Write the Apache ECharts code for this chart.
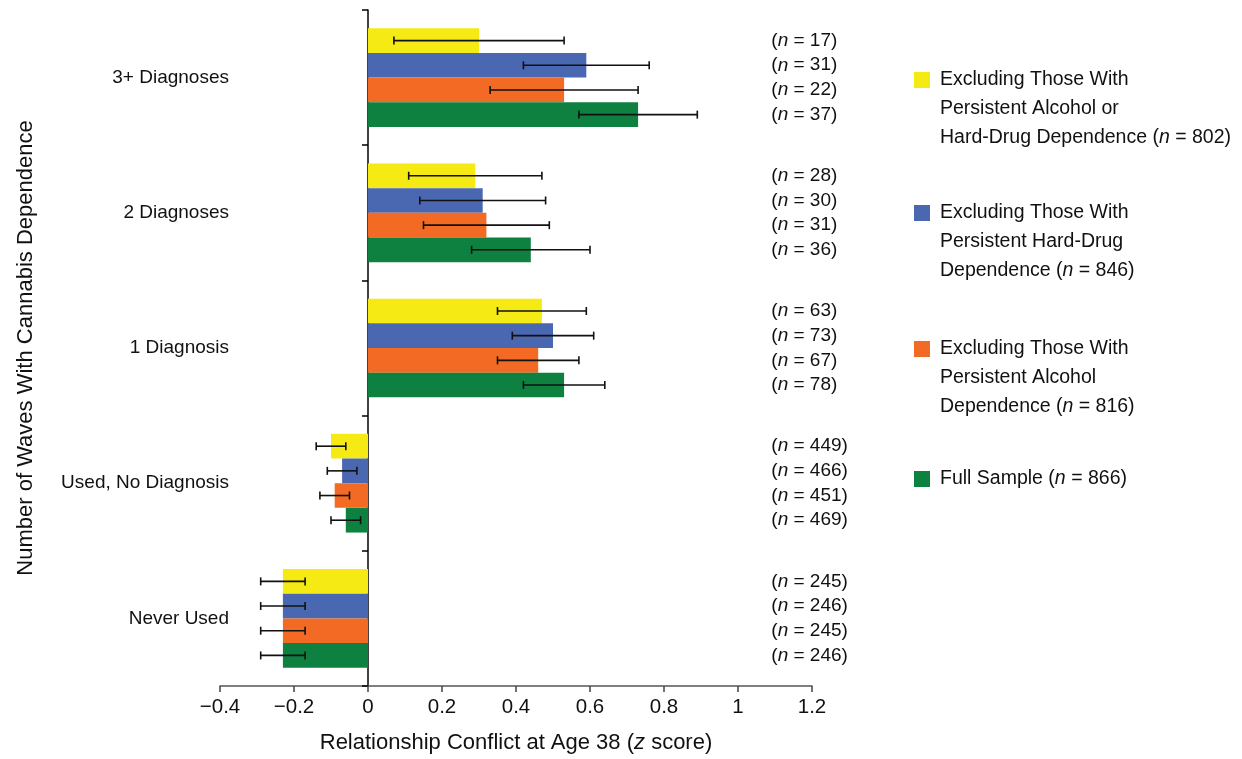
<!DOCTYPE html>
<html><head><meta charset="utf-8">
<script src="https://cdn.jsdelivr.net/npm/echarts@6/dist/echarts.min.js"></script>
<style>html,body{margin:0;padding:0;background:#fff}#c{width:1242px;height:759px}</style>
</head><body><div id="c"></div>
<script>
// ---- data (categories top to bottom) ----
const categories = ['3+ Diagnoses', '2 Diagnoses', '1 Diagnosis', 'Used, No Diagnosis', 'Never Used'];
const seriesNames = [
  'Excluding Those With\nPersistent Alcohol or\nHard-Drug Dependence (n = 802)',
  'Excluding Those With\nPersistent Hard-Drug\nDependence (n = 846)',
  'Excluding Those With\nPersistent Alcohol\nDependence (n = 816)',
  'Full Sample (n = 866)'
];
const meanExclBoth    = [0.30, 0.29, 0.47, -0.10, -0.23];
const lowExclBoth     = [0.07, 0.11, 0.35, -0.14, -0.29];
const highExclBoth    = [0.53, 0.47, 0.59, -0.06, -0.17];
const nExclBoth       = [17, 28, 63, 449, 245];
const meanExclDrug    = [0.59, 0.31, 0.50, -0.07, -0.23];
const lowExclDrug     = [0.42, 0.14, 0.39, -0.11, -0.29];
const highExclDrug    = [0.76, 0.48, 0.61, -0.03, -0.17];
const nExclDrug       = [31, 30, 73, 466, 246];
const meanExclAlcohol = [0.53, 0.32, 0.46, -0.09, -0.23];
const lowExclAlcohol  = [0.33, 0.15, 0.35, -0.13, -0.29];
const highExclAlcohol = [0.73, 0.49, 0.57, -0.05, -0.17];
const nExclAlcohol    = [22, 31, 67, 451, 245];
const meanFull        = [0.73, 0.44, 0.53, -0.06, -0.23];
const lowFull         = [0.57, 0.28, 0.42, -0.10, -0.29];
const highFull        = [0.89, 0.60, 0.64, -0.02, -0.17];
const nFull           = [37, 36, 78, 469, 246];
const xTicks = { min: -0.4, max: 1.2, interval: 0.2 };

// ---- styles ----
const colors = ['#F5EA14', '#4A67B1', '#F26A23', '#0E8140'];
const means = [meanExclBoth, meanExclDrug, meanExclAlcohol, meanFull];
const lows  = [lowExclBoth, lowExclDrug, lowExclAlcohol, lowFull];
const highs = [highExclBoth, highExclDrug, highExclAlcohol, highFull];
const ns    = [nExclBoth, nExclDrug, nExclAlcohol, nFull];

function hasFont(f) {
  const c = document.createElement('canvas').getContext('2d');
  const t = 'Excluding Those With 0123';
  c.font = '40px monospace'; const a = c.measureText(t).width;
  c.font = '40px "' + f + '", monospace'; const b = c.measureText(t).width;
  return a !== b;
}
const NARROW = hasFont('Liberation Sans Narrow');
const FF = NARROW ? '"Liberation Sans Narrow", "Liberation Sans", Arial, sans-serif' : '"Liberation Sans", Arial, sans-serif';
const S = NARROW ? 1.2 : 1.0;
const fs = v => Math.round(v * S * 10) / 10;
const TXT = '#111';
const CAT_GAP = 0.27;
const N_LABEL_AT = 1.09;

const chart = echarts.init(document.getElementById('c'), null, { renderer: 'canvas' });

function richN(size) {
  return { i: { fontStyle: 'italic', fontSize: size, fontFamily: FF, color: TXT } };
}

const barSeries = means.map((m, k) => ({
  type: 'bar', name: seriesNames[k], data: m,
  barGap: '0%', barCategoryGap: (CAT_GAP * 100) + '%',
  itemStyle: { color: colors[k] },
  emphasis: { disabled: true }, z: 2
}));

const errSeries = means.map((m, k) => ({
  type: 'custom', name: 'err' + k, z: 5, silent: true,
  encode: { x: [1, 2], y: 0 },
  data: categories.map((c, i) => [i, lows[k][i], highs[k][i], ns[k][i]]),
  renderItem(params, api) {
    const ci = api.value(0);
    const center = api.coord([0, ci]);
    const band = api.size([0, 1])[1];
    const bw = band * (1 - CAT_GAP) / 4;
    const y = center[1] - 2 * bw + k * bw + bw / 2;
    const xa = api.coord([api.value(1), ci])[0];
    const xb = api.coord([api.value(2), ci])[0];
    const tx = api.coord([N_LABEL_AT, ci])[0];
    const cap = 8;
    const ls = { stroke: '#111', lineWidth: 1.6 };
    return { type: 'group', children: [
      { type: 'line', shape: { x1: xa, y1: y, x2: xb, y2: y }, style: ls },
      { type: 'line', shape: { x1: xa, y1: y - cap / 2, x2: xa, y2: y + cap / 2 }, style: ls },
      { type: 'line', shape: { x1: xb, y1: y - cap / 2, x2: xb, y2: y + cap / 2 }, style: ls },
      { type: 'text', x: tx, y: y, style: {
          text: '({i|n} = ' + api.value(3) + ')', rich: richN(fs(19)),
          fontSize: fs(19), fontFamily: FF, fill: TXT, align: 'left', verticalAlign: 'middle' } }
    ]};
  }
}));

const legendIconCenters = [80, 213, 349, 479];
const LH = 29;
const legends = seriesNames.map((name, k) => {
  const lines = name.split('\n').length;
  const boxH = lines * LH + (lines - 1) * LH; // padded box
  return {
    data: [name], left: 914, top: legendIconCenters[k] - boxH / 2, padding: 0,
    orient: 'vertical', icon: 'rect', itemWidth: 16, itemHeight: 16,
    selectedMode: false,
    formatter: s => s.replace('(n =', '({i|n} ='),
    textStyle: {
      fontSize: fs(19.5), fontFamily: FF, color: TXT, lineHeight: LH,
      padding: [(lines - 1) * LH, 0, 0, 5],
      rich: { i: { fontStyle: 'italic', fontSize: fs(19.5), fontFamily: FF, color: TXT, lineHeight: LH } }
    }
  };
});

const option = {
  backgroundColor: '#fff',
  animation: false,
  textStyle: { fontFamily: FF },
  grid: { left: 220, right: 430, top: 10, bottom: 73, containLabel: false, outerBoundsMode: 'none' },
  legend: legends,
  xAxis: {
    type: 'value', min: xTicks.min, max: xTicks.max, interval: xTicks.interval,
    axisLine: { show: true, onZero: false, lineStyle: { color: '#555', width: 1.5 } },
    axisTick: { show: true, length: 6, lineStyle: { color: '#444', width: 1.5 } },
    splitLine: { show: false },
    axisLabel: {
      margin: 11, fontSize: fs(20.5), fontFamily: FF, color: TXT,
      formatter: v => (v < 0 ? '\u2212' + Math.abs(v) : String(v))
    },
    name: 'Relationship Conflict at Age 38 ({i|z} score)',
    nameLocation: 'middle', nameGap: 46,
    nameTextStyle: { fontSize: fs(22), fontFamily: FF, color: TXT,
      rich: { i: { fontStyle: 'italic', fontSize: fs(22), fontFamily: FF, color: TXT } } }
  },
  yAxis: [
    {
      type: 'category', data: categories, inverse: true, position: 'left',
      axisLine: { show: true, onZero: true, lineStyle: { color: '#000', width: 1.5 } },
      axisTick: { show: true, length: 6, lineStyle: { color: '#000', width: 1.5 } },
      axisLabel: { show: false }, splitLine: { show: false }
    },
    {
      type: 'category', data: categories, inverse: true, position: 'left',
      axisLine: { show: false, onZero: false }, axisTick: { show: false }, splitLine: { show: false },
      axisLabel: { margin: -9, fontSize: fs(19), fontFamily: FF, color: TXT },
      name: 'Number of Waves With Cannabis Dependence', nameLocation: 'middle', nameGap: 183, nameRotate: 90,
      nameTextStyle: { fontSize: fs(22), fontFamily: FF, color: TXT }
    }
  ],
  series: barSeries.concat(errSeries)
};
chart.setOption(option);
</script>
</body></html>
